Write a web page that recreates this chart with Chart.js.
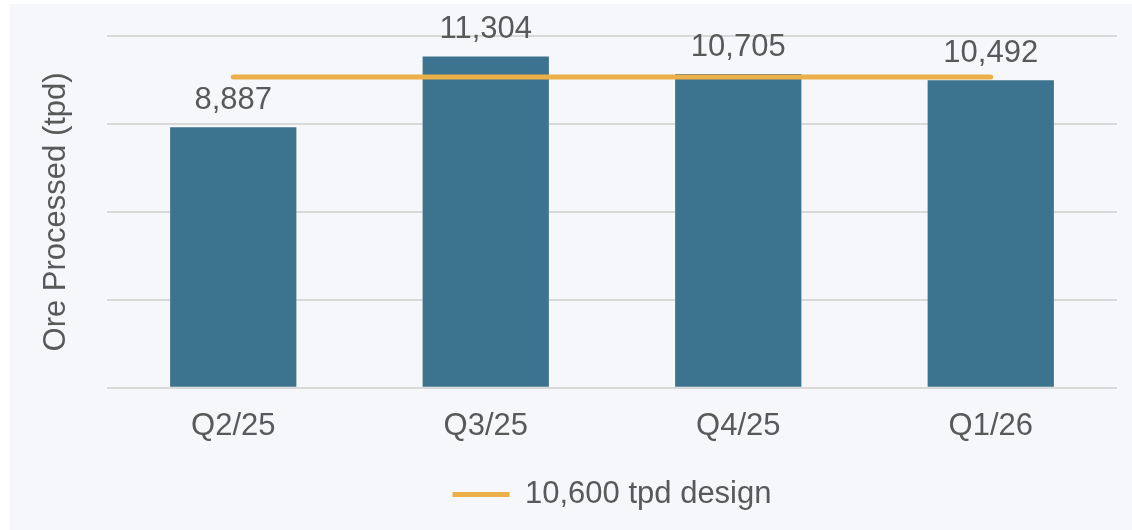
<!DOCTYPE html>
<html>
<head>
<meta charset="utf-8">
<script src="https://cdn.jsdelivr.net/npm/chart.js@4"></script>
<style>
  html, body { margin: 0; padding: 0; background: #ffffff; }
  #wrap { position: absolute; left: 0; top: 0; width: 1132px; height: 530px; }
  #panel { position: absolute; left: 10px; top: 4px; width: 1122px; height: 526px; background: #F5F7FB; }
  canvas { position: absolute; left: 0; top: 0; }
</style>
</head>
<body>
<div id="wrap">
  <div id="panel"></div>
  <canvas id="c" width="1132" height="530"></canvas>
</div>
<script>
const categories = ["Q2/25", "Q3/25", "Q4/25", "Q1/26"];
const oreProcessed = [8887, 11304, 10705, 10492];
const designCapacity = [10600, 10600, 10600, 10600];
const designLabel = "10,600 tpd design";
const yTitle = "Ore Processed (tpd)";

const FONT = "'Liberation Sans', Arial, sans-serif";
const FS = 31;
const TEXT = "#595959";

const barLabels = {
  id: 'barLabels',
  afterDatasetsDraw(chart) {
    const ctx = chart.ctx;
    const meta = chart.getDatasetMeta(1);
    ctx.save();
    ctx.font = FS + "px " + FONT;
    ctx.fillStyle = TEXT;
    ctx.textAlign = 'center';
    ctx.textBaseline = 'alphabetic';
    meta.data.forEach((bar, i) => {
      const v = chart.data.datasets[1].data[i];
      ctx.fillText(v.toLocaleString('en-US'), bar.x, bar.y - 18);
    });
    ctx.restore();
  }
};

const yTitlePlugin = {
  id: 'yTitlePlugin',
  afterDraw(chart) {
    const ctx = chart.ctx;
    const a = chart.chartArea;
    ctx.save();
    ctx.translate(56, (a.top + a.bottom) / 2);
    ctx.rotate(-Math.PI / 2);
    ctx.font = FS + "px " + FONT;
    ctx.fillStyle = TEXT;
    ctx.textAlign = 'center';
    ctx.textBaseline = 'middle';
    ctx.fillText(yTitle, 0, 0);
    ctx.restore();
  }
};

new Chart(document.getElementById('c'), {
  data: {
    labels: categories,
    datasets: [
      {
        type: 'line',
        label: designLabel,
        data: designCapacity,
        borderColor: '#ECB04A',
        backgroundColor: '#ECB04A',
        borderWidth: 5,
        borderCapStyle: 'round',
        pointRadius: 0,
        pointHoverRadius: 0,
        order: 0
      },
      {
        type: 'bar',
        label: 'Ore Processed',
        data: oreProcessed,
        backgroundColor: '#3C738F',
        borderWidth: 0,
        categoryPercentage: 1.0,
        barPercentage: 0.5,
        order: 1
      }
    ]
  },
  options: {
    responsive: false,
    animation: false,
    layout: { padding: { left: 107, right: 15, top: 36, bottom: 10 } },
    scales: {
      x: {
        grid: { display: false, drawTicks: false },
        border: { display: false },
        ticks: { font: { family: FONT, size: FS }, color: TEXT, padding: 20 }
      },
      y: {
        min: 0, max: 12000,
        ticks: { display: false, stepSize: 3000 },
        grid: { color: '#D9D9D9', lineWidth: 2, drawTicks: false },
        border: { display: false }
      }
    },
    plugins: {
      legend: {
        position: 'bottom',
        labels: {
          filter: (item) => item.datasetIndex === 0,
          usePointStyle: true,
          pointStyle: 'line',
          pointStyleWidth: 57,
          boxHeight: 30,
          padding: 14,
          font: { family: FONT, size: FS },
          color: TEXT
        }
      },
      tooltip: { enabled: false }
    }
  },
  plugins: [barLabels, yTitlePlugin]
});
</script>
</body>
</html>
